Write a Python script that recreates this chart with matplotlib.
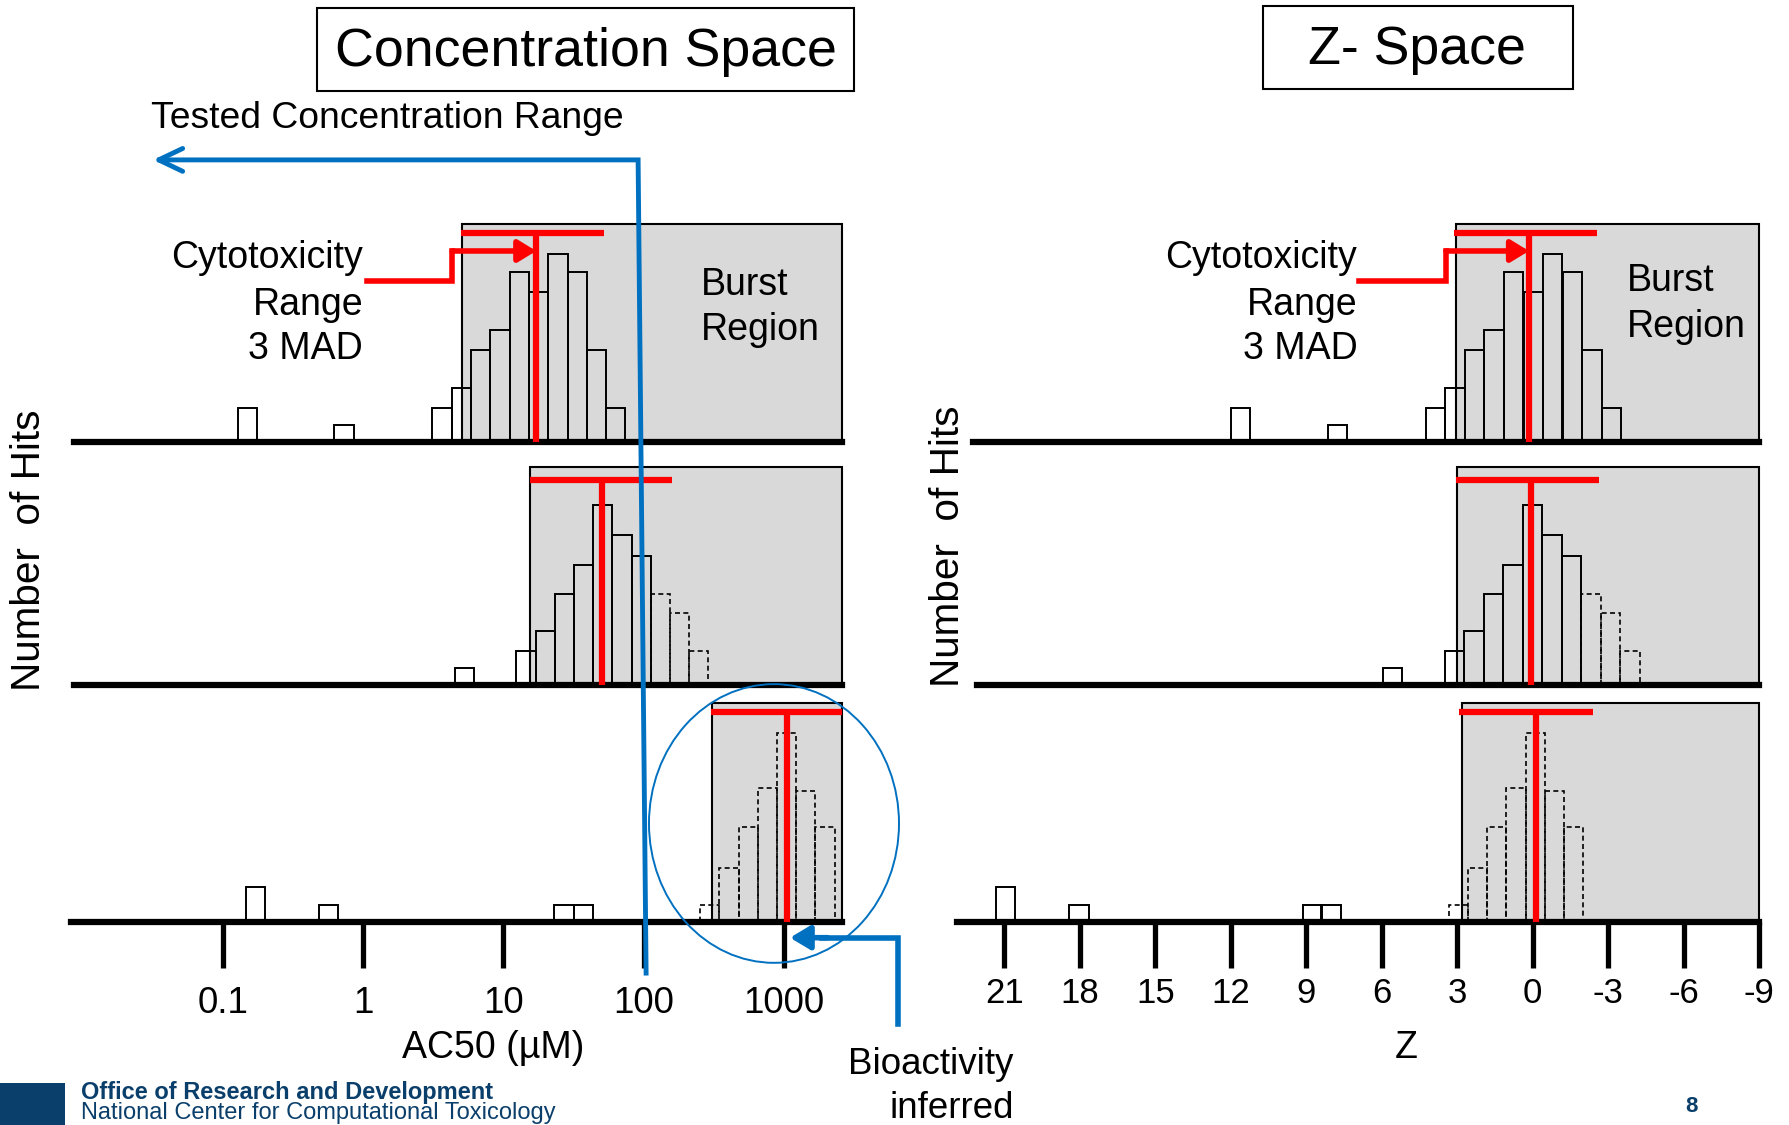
import numpy as np
import matplotlib
matplotlib.use("Agg")
import matplotlib.pyplot as plt
from matplotlib.patches import Rectangle, Ellipse

plt.rcParams['font.family'] = ['Liberation Sans', 'DejaVu Sans']

RED = "#FF0000"
BLUE = "#0070C0"
NAVY = "#0B3F6B"
GREY = "#D9D9D9"

# ---------------- data ----------------
conc_ticks = [0.1, 1, 10, 100, 1000]          # AC50 (uM), log axis
conc_tick_labels = ["0.1", "1", "10", "100", "1000"]
z_ticks = [21, 18, 15, 12, 9, 6, 3, 0, -3, -6, -9]

# number of hits per bin, three example chemicals (top -> bottom)
hits = [
    [2, 1, 2, 3.15, 5.35, 6.55, 9.95, 8.75, 11, 9.95, 5.35, 2],
    [1, 2, 3.15, 5.35, 7.0, 10.5, 8.75, 7.55, 5.35, 4.2, 2],
    [2, 1, 1, 1, 1, 3.15, 5.5, 7.8, 11, 7.6, 5.5],
]
# bins beyond the tested range (hits only inferred)
extrapolated = [
    [False] * 12,
    [False] * 8 + [True] * 3,
    [False] * 4 + [True] * 7,
]
# bin centres: log10(AC50 / uM)
conc_bins = [
    [-0.82, -0.135, 0.563, 0.70, 0.838, 0.976, 1.113, 1.251, 1.388, 1.526, 1.663, 1.801],
    [0.725, 1.161, 1.298, 1.434, 1.571, 1.707, 1.844, 1.981, 2.117, 2.254, 2.39],
    [-0.767, -0.244, 1.432, 1.568, 2.469, 2.606, 2.743, 2.88, 3.017, 3.154, 3.291],
]
# bin centres: Z score
z_bins = [
    [11.62, 7.77, 3.87, 3.09, 2.31, 1.54, 0.76, -0.02, -0.79, -1.57, -2.35, -3.12],
    [5.57, 3.12, 2.34, 1.57, 0.79, 0.01, -0.76, -1.54, -2.32, -3.09, -3.87],
    [20.95, 18.04, 8.75, 8.02, 2.96, 2.2, 1.43, 0.67, -0.1, -0.86, -1.62],
]
conc_bin_width = 0.137
z_bin_width = 0.77

# cytotoxicity centre and 3 MAD range
cyto_conc_center = [1.234, 1.704, 3.017]
cyto_conc_lo = [0.697, 1.187, 2.475]
cyto_conc_hi = [1.717, 2.202, 3.415]
cyto_z_center = [0.15, 0.085, -0.11]
cyto_z_lo = [3.13, 3.06, 2.92]
cyto_z_hi = [-2.55, -2.62, -2.4]

# start of the burst region
burst_conc_start = [0.707, 1.192, 2.486]
burst_z_start = [3.06, 3.0, 2.81]

tested_max = 100  # uM

# ---------------- layout (reference px, 1568 x 985) ----------------
W, H = 1568.0, 985.0
UNIT = 15.0             # px per hit
YMAX = 13.0
BOX_TOP = 12.75
T_H = [12.2, 12.0, 12.25]
ROW_BASE = [387, 600, 807]
LEFT_X = (65, 738)
RIGHT_X = (838, 1541)
CONC_LIM = (-2.057, 3.415)
Z_LIM = (22.9, -9.0)
BASE_START_L = [65, 65, 62]
BASE_START_R = [852, 856, 838]

fig = plt.figure(figsize=(17.9, 11.25), dpi=100)


def make_axes(x0, x1, base):
    ax = fig.add_axes([x0 / W, 1 - base / H, (x1 - x0) / W, YMAX * UNIT / H])
    ax.set_facecolor("none")
    for s in ax.spines.values():
        s.set_visible(False)
    ax.set_yticks([])
    ax.set_xticks([])
    ax.set_ylim(0, YMAX)
    return ax


def draw_row(ax, bins, h, ex, width, burst, xend, lo, hi, center, t_h, base_frac):
    ax.add_patch(Rectangle((burst, 0), xend - burst, BOX_TOP, facecolor=GREY,
                           edgecolor="black", lw=1.5, zorder=1, clip_on=False))
    bins = np.asarray(bins)
    h = np.asarray(h)
    ex = np.asarray(ex)
    ax.bar(bins[~ex], h[~ex], width, facecolor="none", edgecolor="black", lw=1.4, zorder=2)
    ax.bar(bins[ex], h[ex], width, facecolor="none", edgecolor="black", lw=1.2,
           linestyle=(0, (3, 2)), zorder=2)
    ax.axhline(0, xmin=base_frac, xmax=1, color="black", lw=4.5, zorder=3, clip_on=False)
    ax.plot([lo, hi], [t_h, t_h], color=RED, lw=4.5, solid_capstyle="butt", zorder=4, clip_on=False)
    ax.plot([center, center], [0, t_h], color=RED, lw=4.5, solid_capstyle="butt", zorder=4)


left_axes, right_axes = [], []
for i in range(3):
    axl = make_axes(LEFT_X[0], LEFT_X[1], ROW_BASE[i])
    axl.set_xlim(*CONC_LIM)
    draw_row(axl, conc_bins[i], hits[i], extrapolated[i], conc_bin_width,
             burst_conc_start[i], CONC_LIM[1], cyto_conc_lo[i], cyto_conc_hi[i],
             cyto_conc_center[i], T_H[i],
             (BASE_START_L[i] - LEFT_X[0]) / (LEFT_X[1] - LEFT_X[0]))
    left_axes.append(axl)

    axr = make_axes(RIGHT_X[0], RIGHT_X[1], ROW_BASE[i])
    axr.set_xlim(*Z_LIM)
    draw_row(axr, z_bins[i], hits[i], extrapolated[i], z_bin_width,
             burst_z_start[i], Z_LIM[1], cyto_z_lo[i], cyto_z_hi[i],
             cyto_z_center[i], T_H[i],
             (BASE_START_R[i] - RIGHT_X[0]) / (RIGHT_X[1] - RIGHT_X[0]))
    right_axes.append(axr)

# red arrows pointing at the cytotoxicity centre (top row)
for ax, start, corner, tip in [(left_axes[0], 0.03, 0.636, cyto_conc_center[0]),
                               (right_axes[0], 6.89, 3.45, cyto_z_center[0])]:
    ax.plot([start, corner, corner], [9.4, 9.4, 11.15], color=RED, lw=4,
            solid_joinstyle="miter", zorder=4, clip_on=False)
    ax.annotate("", xy=(tip, 11.15), xytext=(corner, 11.15),
                arrowprops=dict(arrowstyle="-|>,head_length=0.9,head_width=0.55",
                                color=RED, lw=4, shrinkA=0, shrinkB=0,
                                mutation_scale=12), zorder=4)

# bottom axes ticks
axl = left_axes[2]
axl.set_xticks(np.log10(conc_ticks))
axl.set_xticklabels(conc_tick_labels)
axl.tick_params(axis="x", direction="out", length=33, width=3.8, pad=13, labelsize=26.5)
axr = right_axes[2]
axr.set_xticks(z_ticks)
axr.set_xticklabels([str(t) for t in z_ticks])
axr.tick_params(axis="x", direction="out", length=33, width=3.8, pad=7, labelsize=25)

# ---------------- annotation overlay ----------------
ov = fig.add_axes([0, 0, 1, 1], zorder=10)
ov.set_xlim(0, W)
ov.set_ylim(H, 0)
ov.axis("off")
ov.patch.set_alpha(0)

# title boxes
ov.add_patch(Rectangle((278, 7), 470, 73, fill=False, edgecolor="black", lw=1.5))
ov.add_patch(Rectangle((1106, 5), 272, 73, fill=False, edgecolor="black", lw=1.5))
ov.text(513, 58, "Concentration Space", ha="center", va="baseline", fontsize=38.7)
ov.text(1241, 56, "Z- Space", ha="center", va="baseline", fontsize=38.7)

# tested concentration range arrow (up to tested_max)
disp = left_axes[2].transData.transform((np.log10(tested_max), 0))
x_bottom = disp[0] / fig.dpi / 17.9 * W + 2
ov.plot([x_bottom, x_bottom - 7, 140], [852, 140, 140], color=BLUE, lw=3.5,
        solid_joinstyle="miter")
ov.plot([160, 139, 160], [130, 140, 150], color=BLUE, lw=3.5, solid_capstyle="round")
ov.text(132, 112, "Tested Concentration Range", ha="left", va="baseline", fontsize=26.8)

# bioactivity inferred
ov.add_patch(Ellipse((678, 721), 219, 244, fill=False, edgecolor=BLUE, lw=1.4))
ov.plot([787, 787, 720], [897, 821, 821], color=BLUE, lw=4, solid_joinstyle="miter")
ov.annotate("", xy=(692, 821), xytext=(725, 821),
            arrowprops=dict(arrowstyle="-|>,head_length=1.0,head_width=0.6",
                            color=BLUE, lw=4, shrinkA=0, shrinkB=0, mutation_scale=12))
ov.text(888, 940, "Bioactivity", ha="right", va="baseline", fontsize=26.5)
ov.text(888, 979, "inferred", ha="right", va="baseline", fontsize=26.5)

# panel texts
for xr, xb, yb in [(318, 614, 0), (1189, 1425, -3)]:
    ov.text(xr, 235, "Cytotoxicity", ha="right", va="baseline", fontsize=27)
    ov.text(xr, 276, "Range", ha="right", va="baseline", fontsize=27)
    ov.text(xr, 314, "3 MAD", ha="right", va="baseline", fontsize=27)
    ov.text(xb, 258 + yb, "Burst", ha="left", va="baseline", fontsize=27)
    ov.text(xb, 298 + yb, "Region", ha="left", va="baseline", fontsize=27)

ov.text(25, 482, "Number  of Hits", rotation=90, ha="center", va="center", fontsize=29.2)
ov.text(830, 478, "Number  of Hits", rotation=90, ha="center", va="center", fontsize=29.2)
ov.text(432, 918, "AC50 (\u00b5M)", ha="center", va="center", fontsize=27)
ov.text(1232, 918, "Z", ha="center", va="center", fontsize=27)

# footer
ov.add_patch(Rectangle((0, 948), 57, 40, facecolor=NAVY, edgecolor="none", clip_on=False))
ov.text(71, 962, "Office of Research and Development", ha="left", va="baseline",
        fontsize=17, fontweight="bold", color=NAVY)
ov.text(71, 980, "National Center for Computational Toxicology", ha="left", va="baseline",
        fontsize=17, color=NAVY)
ov.text(1482, 969, "8", ha="center", va="center", fontsize=16, fontweight="bold", color=NAVY)

fig.savefig("out.png", dpi=100)
